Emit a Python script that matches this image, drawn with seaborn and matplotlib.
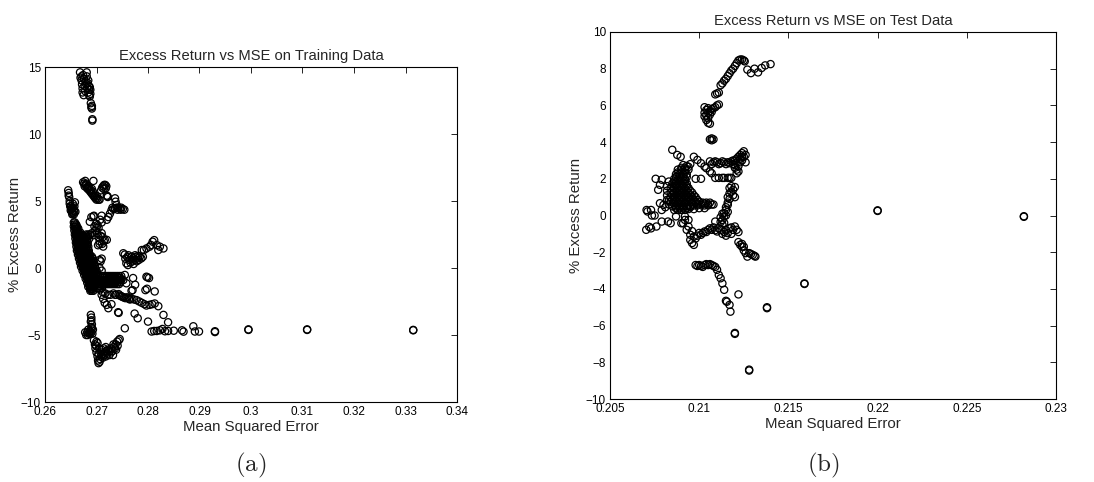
import matplotlib
matplotlib.use('Agg')
import matplotlib.pyplot as plt
from matplotlib.ticker import FuncFormatter, MultipleLocator
import pandas as pd
import seaborn as sns

# ---- (a) training data: (MSE, % excess return) ----
train_top = [
    (0.2668, 14.6), (0.2671, 14.3), (0.2671, 14.0), (0.2672, 13.7), (0.2674, 14.4),
    (0.2676, 14.1), (0.2677, 13.6), (0.2679, 13.9), (0.2681, 14.6), (0.2681, 14.3),
    (0.2682, 13.4), (0.2683, 13.8), (0.2684, 13.1), (0.2685, 13.6), (0.2686, 13.3),
    (0.2686, 12.9), (0.2687, 13.5), (0.2688, 13.0), (0.2688, 13.3), (0.2673, 13.1),
    (0.2675, 12.9), (0.2690, 12.0), (0.2691, 11.9), (0.2691, 12.1), (0.2692, 11.1),
    (0.2692, 11.0), (0.2669, 14.2), (0.2673, 13.4), (0.2678, 13.2), (0.2680, 13.7),
    (0.2684, 14.0), (0.2687, 12.8), (0.2689, 12.3),
]
train_six = [
    (0.2674, 6.4), (0.2676, 6.3), (0.2678, 6.5), (0.2679, 6.2), (0.2681, 6.0),
    (0.2683, 5.9), (0.2684, 6.1), (0.2686, 5.8), (0.2688, 5.7), (0.2690, 5.6),
    (0.2692, 5.5), (0.2694, 5.4), (0.2696, 5.3), (0.2698, 5.2), (0.2700, 5.1),
    (0.2702, 5.2), (0.2704, 5.1), (0.2706, 5.1), (0.2694, 6.5), (0.2691, 5.9),
    (0.2677, 6.1), (0.2680, 6.3), (0.2685, 6.0), (0.2689, 5.8), (0.2693, 5.7),
    (0.2697, 5.4), (0.2701, 5.35),
    (0.2709, 5.8), (0.2711, 6.0), (0.2713, 6.1), (0.2715, 6.2), (0.2717, 6.2),
    (0.2719, 6.1), (0.2720, 5.4), (0.2722, 5.3), (0.2721, 5.35), (0.2714, 5.9),
    (0.2718, 5.95),
]
train_left = [
    (0.2645, 5.8), (0.2646, 5.6), (0.2647, 5.3), (0.2648, 5.0), (0.2649, 4.6),
    (0.2650, 4.3), (0.2652, 4.2), (0.2654, 4.1), (0.2656, 4.3), (0.2657, 4.6),
    (0.2658, 4.9), (0.2656, 4.0), (0.2651, 4.4), (0.2653, 4.0), (0.2659, 4.2),
    (0.2646, 5.4), (0.2648, 4.8), (0.2650, 4.6), (0.2652, 4.5), (0.2655, 4.5),
    (0.2657, 4.2), (0.2654, 4.8),
]
train_band = [
    (0.2656, 3.4), (0.2658, 3.4),
    (0.2656, 3.1), (0.2659, 3.1), (0.2662, 3.1),
    (0.2657, 2.8), (0.2660, 2.8), (0.2663, 2.8),
    (0.2658, 2.5), (0.2661, 2.5), (0.2664, 2.5), (0.2667, 2.5), (0.2670, 2.5),
    (0.2680, 2.5), (0.2684, 2.5), (0.2688, 2.5),
    (0.2659, 2.2), (0.2662, 2.2), (0.2665, 2.2), (0.2668, 2.2), (0.2671, 2.2),
    (0.2674, 2.2), (0.2678, 2.2), (0.2682, 2.2), (0.2686, 2.2),
    (0.2660, 1.9), (0.2663, 1.9), (0.2666, 1.9), (0.2669, 1.9), (0.2672, 1.9),
    (0.2675, 1.9), (0.2679, 1.9), (0.2683, 1.9),
    (0.2661, 1.6), (0.2664, 1.6), (0.2667, 1.6), (0.2670, 1.6), (0.2673, 1.6),
    (0.2676, 1.6), (0.2680, 1.6), (0.2684, 1.6),
    (0.2662, 1.3), (0.2665, 1.3), (0.2668, 1.3), (0.2671, 1.3), (0.2674, 1.3),
    (0.2677, 1.3), (0.2681, 1.3), (0.2685, 1.3),
    (0.2664, 1.0), (0.2667, 1.0), (0.2670, 1.0), (0.2673, 1.0), (0.2676, 1.0),
    (0.2679, 1.0), (0.2683, 1.0), (0.2687, 1.0),
    (0.2666, 0.7), (0.2669, 0.7), (0.2672, 0.7), (0.2675, 0.7), (0.2678, 0.7),
    (0.2681, 0.7), (0.2685, 0.7), (0.2689, 0.7), (0.2693, 0.7),
    (0.2668, 0.4), (0.2671, 0.4), (0.2674, 0.4), (0.2677, 0.4), (0.2680, 0.4),
    (0.2683, 0.4), (0.2687, 0.4), (0.2691, 0.4), (0.2695, 0.4),
    (0.2670, 0.1), (0.2673, 0.1), (0.2676, 0.1), (0.2679, 0.1), (0.2682, 0.1),
    (0.2685, 0.1), (0.2689, 0.1), (0.2693, 0.1), (0.2697, 0.1),
    (0.2673, -0.2), (0.2676, -0.2), (0.2679, -0.2), (0.2682, -0.2), (0.2685, -0.2),
    (0.2688, -0.2), (0.2692, -0.2), (0.2696, -0.2), (0.2700, -0.2),
    (0.2676, -0.5), (0.2679, -0.5), (0.2682, -0.5), (0.2685, -0.5), (0.2688, -0.5),
    (0.2691, -0.5), (0.2695, -0.5), (0.2699, -0.5), (0.2703, -0.5),
    (0.2679, -0.8), (0.2682, -0.8), (0.2685, -0.8), (0.2688, -0.8), (0.2691, -0.8),
    (0.2694, -0.8), (0.2698, -0.8), (0.2702, -0.8),
    (0.2682, -1.1), (0.2685, -1.1), (0.2688, -1.1), (0.2691, -1.1), (0.2694, -1.1),
    (0.2697, -1.1), (0.2700, -1.1),
    (0.2684, -1.4), (0.2687, -1.4), (0.2690, -1.4), (0.2693, -1.4), (0.2696, -1.4),
    (0.2688, -1.7), (0.2691, -1.7), (0.2694, -1.7),
]
# second, offset pass over the dense band
train_band_b = [
    (0.26575, 3.25), (0.26605, 3.25),
    (0.26585, 2.95), (0.26615, 2.95), (0.26645, 2.95),
    (0.26595, 2.65), (0.26625, 2.65), (0.26655, 2.65), (0.26685, 2.65),
    (0.26605, 2.35), (0.26635, 2.35), (0.26665, 2.35), (0.26695, 2.35), (0.26725, 2.35),
    (0.2676, 2.35), (0.2680, 2.35), (0.2684, 2.35),
    (0.26615, 2.05), (0.26645, 2.05), (0.26675, 2.05), (0.26705, 2.05), (0.26735, 2.05),
    (0.26765, 2.05), (0.2681, 2.05),
    (0.26625, 1.75), (0.26655, 1.75), (0.26685, 1.75), (0.26715, 1.75), (0.26745, 1.75),
    (0.2678, 1.75), (0.2682, 1.75),
    (0.26635, 1.45), (0.26665, 1.45), (0.26695, 1.45), (0.26725, 1.45), (0.26755, 1.45),
    (0.2679, 1.45), (0.2683, 1.45),
    (0.26655, 1.15), (0.26685, 1.15), (0.26715, 1.15), (0.26745, 1.15), (0.26775, 1.15),
    (0.2681, 1.15), (0.2685, 1.15),
    (0.26675, 0.85), (0.26705, 0.85), (0.26735, 0.85), (0.26765, 0.85), (0.26795, 0.85),
    (0.2683, 0.85), (0.2687, 0.85), (0.2691, 0.85),
    (0.26695, 0.55), (0.26725, 0.55), (0.26755, 0.55), (0.26785, 0.55), (0.26815, 0.55),
    (0.2685, 0.55), (0.2689, 0.55), (0.2693, 0.55),
    (0.26715, 0.25), (0.26745, 0.25), (0.26775, 0.25), (0.26805, 0.25), (0.26835, 0.25),
    (0.2687, 0.25), (0.2691, 0.25), (0.2695, 0.25),
    (0.26745, -0.05), (0.26775, -0.05), (0.26805, -0.05), (0.26835, -0.05),
    (0.26865, -0.05), (0.2690, -0.05), (0.2694, -0.05), (0.2698, -0.05),
    (0.26775, -0.35), (0.26805, -0.35), (0.26835, -0.35), (0.26865, -0.35),
    (0.26895, -0.35), (0.2693, -0.35), (0.2697, -0.35), (0.2701, -0.35),
    (0.26805, -0.65), (0.26835, -0.65), (0.26865, -0.65), (0.26895, -0.65),
    (0.26925, -0.65), (0.2696, -0.65), (0.2700, -0.65),
    (0.26835, -0.95), (0.26865, -0.95), (0.26895, -0.95), (0.26925, -0.95),
    (0.26955, -0.95), (0.2699, -0.95),
    (0.26855, -1.25), (0.26885, -1.25), (0.26915, -1.25), (0.26945, -1.25),
    (0.26875, -1.55), (0.26905, -1.55), (0.26935, -1.55),
]
train_mid = [
    (0.2687, 3.45), (0.2690, 3.8), (0.2694, 3.85), (0.2695, 3.9), (0.2707, 3.6),
    (0.2710, 3.9), (0.2710, 3.4), (0.2700, 3.0), (0.2702, 3.2), (0.2698, 2.8),
    (0.2704, 3.0), (0.2706, 2.0), (0.2708, 2.4), (0.2710, 2.6), (0.2712, 2.3),
    (0.2714, 2.0), (0.2716, 2.1), (0.2720, 2.1), (0.2711, 1.8), (0.2713, 1.6),
    (0.2703, 1.7), (0.2706, 1.8), (0.2691, 2.6), (0.2694, 2.45), (0.2696, 3.1),
    (0.2701, 2.6), (0.2704, 2.3), (0.2699, 3.3),
    (0.2720, 3.6), (0.2723, 3.8), (0.2726, 4.05), (0.2729, 4.3),
    (0.2733, 4.4), (0.2736, 4.45), (0.2739, 4.5), (0.2742, 4.5), (0.2745, 4.45),
    (0.2748, 4.5), (0.2751, 4.4), (0.2754, 4.35), (0.2736, 5.2), (0.2737, 4.95),
    (0.2739, 4.7), (0.2731, 4.5), (0.2741, 4.35), (0.2747, 4.35),
    (0.2710, 0.7), (0.2708, 0.5), (0.2706, 0.6), (0.2706, 0.0), (0.2710, -0.2),
]
train_right = [
    (0.2752, 1.1), (0.2755, 1.0), (0.2758, 0.35), (0.2761, 0.22), (0.2764, 0.6),
    (0.2768, 0.84), (0.2771, 0.72), (0.2774, 0.6), (0.2777, 0.84), (0.2780, 0.72),
    (0.2784, 0.84), (0.2787, 0.72), (0.2790, 0.84), (0.2760, 0.8), (0.2766, 0.4),
    (0.2772, 0.3), (0.2778, 0.5), (0.2782, 0.6), (0.2756, 0.7), (0.2762, 0.95),
    (0.2769, 0.55), (0.2775, 0.95), (0.2781, 0.9),
    (0.2788, 1.34), (0.2792, 1.34),
    (0.2797, 1.46), (0.2803, 1.59), (0.2806, 1.71), (0.2809, 1.96), (0.2812, 2.08),
    (0.2817, 1.71), (0.2820, 1.34), (0.2823, 1.59), (0.2830, 1.46),
]
train_neg = [
    (0.2712, -0.6), (0.2716, -0.6), (0.2720, -0.6), (0.2724, -0.6), (0.2728, -0.6),
    (0.2732, -0.6), (0.2736, -0.6), (0.2740, -0.6), (0.2744, -0.6), (0.2748, -0.6),
    (0.2708, -0.9), (0.2712, -0.9), (0.2716, -0.9), (0.2720, -0.9), (0.2724, -0.9),
    (0.2728, -0.9), (0.2732, -0.9), (0.2736, -0.9), (0.2740, -0.9), (0.2744, -0.9),
    (0.2748, -0.9), (0.2752, -0.9),
    (0.2704, -1.2), (0.2708, -1.2), (0.2712, -1.2), (0.2716, -1.2), (0.2720, -1.2),
    (0.2724, -1.2), (0.2728, -1.2), (0.2732, -1.2), (0.2736, -1.2), (0.2740, -1.2),
    (0.2744, -1.2), (0.2702, -1.5), (0.2706, -1.5), (0.2710, -1.5),
    (0.2714, -0.75), (0.2718, -0.75), (0.2722, -0.75), (0.2726, -0.75), (0.2730, -0.75),
    (0.2734, -0.75), (0.2738, -0.75), (0.2742, -0.75), (0.2746, -0.75),
    (0.2710, -1.05), (0.2714, -1.05), (0.2718, -1.05), (0.2722, -1.05), (0.2726, -1.05),
    (0.2730, -1.05), (0.2734, -1.05), (0.2738, -1.05), (0.2742, -1.05), (0.2746, -1.05),
    (0.2706, -1.35), (0.2712, -1.35),
    (0.2755, -0.52), (0.2758, -1.14),
    (0.2771, -0.75), (0.2775, -1.25), (0.2770, -1.65), (0.2797, -0.65),
    (0.2802, -0.75), (0.2799, -0.7), (0.2795, -1.65), (0.2798, -1.55),
    (0.2813, -1.75), (0.2768, -1.7),
]
train_down = [
    (0.2707, -1.6), (0.2712, -1.8), (0.2717, -1.9), (0.2722, -2.0), (0.2727, -2.0),
    (0.2733, -1.9), (0.2738, -2.0), (0.2743, -1.95), (0.2748, -2.1), (0.2753, -2.2),
    (0.2758, -2.2), (0.2763, -2.3), (0.2768, -2.3), (0.2773, -2.35), (0.2778, -2.4),
    (0.2783, -2.5), (0.2788, -2.6), (0.2793, -2.7), (0.2797, -2.8), (0.2803, -2.75),
    (0.2808, -2.7), (0.2813, -2.65), (0.2820, -2.85), (0.2710, -2.0), (0.2713, -2.3),
    (0.2716, -2.6), (0.2720, -2.75), (0.2723, -3.0), (0.2729, -2.7), (0.2736, -2.0),
    (0.2745, -2.05), (0.2750, -2.15), (0.2756, -2.25), (0.2760, -2.2), (0.2765, -2.35),
    (0.2742, -3.3), (0.2743, -3.35), (0.2755, -4.5), (0.2774, -3.4), (0.2780, -3.75),
    (0.2800, -4.0), (0.2830, -3.5), (0.2839, -4.05),
]
train_flat = [
    (0.2807, -4.74), (0.2812, -4.7), (0.2817, -4.7), (0.2823, -4.65), (0.2828, -4.55),
    (0.2833, -4.72), (0.2839, -4.7), (0.2850, -4.68), (0.2866, -4.65), (0.2869, -4.75),
    (0.2888, -4.35), (0.2891, -4.74), (0.2899, -4.74), (0.2930, -4.78), (0.2930, -4.72),
    (0.2995, -4.62), (0.2995, -4.58), (0.3109, -4.62), (0.3109, -4.58), (0.3315, -4.65),
    (0.3315, -4.62),
]
train_low = [
    (0.2689, -3.5), (0.2690, -3.7), (0.2690, -3.9), (0.2691, -4.2), (0.2691, -4.5),
    (0.2690, -4.8), (0.2688, -4.9), (0.2685, -4.9), (0.2682, -4.8), (0.2680, -5.0),
    (0.2678, -4.8), (0.2684, -4.6), (0.2687, -4.7), (0.2692, -4.9), (0.2693, -4.6),
    (0.2689, -4.0), (0.2690, -4.4), (0.2683, -5.0), (0.2686, -4.8),
    (0.2695, -5.4), (0.2697, -5.7), (0.2698, -6.0), (0.2700, -6.3), (0.2702, -6.6),
    (0.2703, -6.9), (0.2704, -7.1), (0.2706, -7.0), (0.2707, -6.8), (0.2710, -6.5),
    (0.2713, -6.4), (0.2716, -6.3), (0.2719, -6.2), (0.2722, -6.1), (0.2725, -6.2),
    (0.2728, -6.0), (0.2731, -6.2), (0.2734, -5.9), (0.2737, -5.7), (0.2740, -5.5),
    (0.2743, -5.4), (0.2745, -5.3), (0.2710, -6.1), (0.2714, -6.0), (0.2718, -5.9),
    (0.2705, -6.0), (0.2702, -5.6), (0.2700, -5.5), (0.2712, -6.7), (0.2718, -6.6),
    (0.2725, -6.5), (0.2732, -6.5), (0.2733, -5.7), (0.2738, -6.1), (0.2699, -5.8),
    (0.2704, -6.4), (0.2708, -6.3), (0.2715, -6.5), (0.2721, -6.4), (0.2728, -6.3),
    (0.2736, -6.0), (0.2741, -5.8),
]

# ---- (b) test data ----
test_arc = [
    (0.2106, 4.15), (0.2107, 4.2), (0.2107, 4.1), (0.2108, 4.15),
    (0.2103, 5.9), (0.2103, 5.6), (0.2103, 5.4), (0.2104, 5.2), (0.2104, 5.75),
    (0.2105, 5.85), (0.2106, 5.0), (0.2105, 5.05), (0.2106, 5.5), (0.2107, 5.8),
    (0.2108, 5.85), (0.2109, 5.9), (0.2110, 6.0), (0.2111, 6.05), (0.2104, 5.45),
    (0.2106, 5.7), (0.2105, 5.3), (0.2105, 5.6), (0.2107, 5.65),
    (0.2109, 6.6), (0.2110, 6.65), (0.2111, 6.7), (0.2112, 7.1), (0.2113, 7.2),
    (0.2114, 7.35), (0.2115, 7.45), (0.2116, 7.6), (0.2117, 7.75), (0.2118, 7.9),
    (0.2119, 8.0), (0.2120, 8.15), (0.2121, 8.3), (0.2122, 8.45), (0.2123, 8.5),
    (0.2124, 8.5), (0.2125, 8.45), (0.21255, 8.4),
    (0.2127, 7.95), (0.2129, 7.76), (0.2131, 8.0), (0.2133, 7.8), (0.2135, 8.04),
    (0.2137, 8.18), (0.2140, 8.25),
]
test_three = [
    (0.2106, 2.95), (0.2108, 2.9), (0.2110, 2.9), (0.2112, 2.85), (0.2114, 2.9),
    (0.2116, 2.9), (0.2118, 2.95), (0.2119, 2.8), (0.2120, 2.6), (0.2120, 3.0),
    (0.2121, 2.5), (0.2121, 3.1), (0.2122, 2.7), (0.2122, 3.2), (0.2123, 2.9),
    (0.2123, 3.3), (0.2124, 3.0), (0.2124, 3.4), (0.2125, 3.2), (0.2125, 3.5),
    (0.2126, 3.3), (0.2126, 2.9), (0.2122, 2.4), (0.2121, 2.3), (0.2120, 2.75),
    (0.2119, 3.0), (0.2107, 2.8), (0.2109, 2.95), (0.2111, 2.8), (0.2113, 2.95),
    (0.2115, 2.8), (0.2117, 2.85), (0.2121, 2.85), (0.2123, 3.1), (0.2124, 3.2),
    (0.2101, 2.0), (0.2109, 2.05), (0.2111, 2.05), (0.2113, 2.05), (0.2114, 2.05),
    (0.2116, 2.05), (0.2117, 2.05), (0.2118, 2.05),
    (0.2097, 3.2), (0.2099, 3.03), (0.2101, 2.85), (0.2103, 2.67), (0.2104, 2.58),
    (0.2106, 2.4), (0.2107, 2.3),
    (0.2116, 1.0), (0.2117, 1.2), (0.2117, 1.5), (0.2118, 1.3), (0.2118, 1.6),
    (0.2119, 1.1), (0.2119, 1.4), (0.2120, 1.0), (0.2120, 1.55), (0.2117, 0.9),
]
test_blob = [
    (0.2091, 2.75), (0.2093, 2.7), (0.2095, 2.8),
    (0.2088, 2.5), (0.2090, 2.5), (0.2092, 2.5), (0.2094, 2.5),
    (0.2087, 2.25), (0.2089, 2.25), (0.2091, 2.25), (0.2093, 2.25),
    (0.2086, 2.0), (0.2088, 2.0), (0.2090, 2.0), (0.2092, 2.0),
    (0.2085, 1.75), (0.2087, 1.75), (0.2089, 1.75), (0.2091, 1.75), (0.2093, 1.75),
    (0.2084, 1.5), (0.2086, 1.5), (0.2088, 1.5), (0.2090, 1.5), (0.2092, 1.5),
    (0.2094, 1.5),
    (0.2084, 1.25), (0.2086, 1.25), (0.2088, 1.25), (0.2090, 1.25), (0.2092, 1.25),
    (0.2094, 1.25), (0.2096, 1.25),
    (0.2084, 1.0), (0.2086, 1.0), (0.2088, 1.0), (0.2090, 1.0), (0.2092, 1.0),
    (0.2094, 1.0), (0.2096, 1.0), (0.2098, 1.0),
    (0.2084, 0.75), (0.2086, 0.75), (0.2088, 0.75), (0.2090, 0.75), (0.2092, 0.75),
    (0.2094, 0.75), (0.2096, 0.75), (0.2098, 0.75), (0.2100, 0.75), (0.2102, 0.7),
    (0.2104, 0.7), (0.2106, 0.7),
    (0.2085, 0.5), (0.2087, 0.5), (0.2089, 0.5), (0.2091, 0.5), (0.2093, 0.5),
    (0.2095, 0.5), (0.2097, 0.55), (0.2099, 0.55), (0.2101, 0.6), (0.2103, 0.55),
    (0.2105, 0.55), (0.2107, 0.6), (0.2108, 0.6),
    (0.2086, 0.3), (0.2088, 0.3), (0.2090, 0.3), (0.2092, 0.3), (0.2094, 0.35),
    (0.2097, 0.35), (0.2100, 0.4), (0.2103, 0.4),
]
# second, offset pass over the dense blob
test_blob_b = [
    (0.2090, 2.6), (0.2092, 2.6), (0.2094, 2.65),
    (0.2088, 2.35), (0.2090, 2.35), (0.2092, 2.35),
    (0.2087, 2.1), (0.2089, 2.1), (0.2091, 2.1), (0.2093, 2.1),
    (0.2083, 1.85), (0.2086, 1.85), (0.2088, 1.85), (0.2090, 1.85), (0.2092, 1.85),
    (0.2082, 1.6), (0.2085, 1.6), (0.2087, 1.6), (0.2089, 1.6), (0.2091, 1.6),
    (0.2093, 1.6),
    (0.2082, 1.35), (0.2085, 1.35), (0.2087, 1.35), (0.2089, 1.35), (0.2091, 1.35),
    (0.2093, 1.35), (0.2095, 1.35),
    (0.2082, 1.1), (0.2085, 1.1), (0.2087, 1.1), (0.2089, 1.1), (0.2091, 1.1),
    (0.2093, 1.1), (0.2095, 1.1), (0.2097, 1.1),
    (0.2082, 0.85), (0.2085, 0.85), (0.2087, 0.85), (0.2089, 0.85), (0.2091, 0.85),
    (0.2093, 0.85), (0.2095, 0.85), (0.2097, 0.85), (0.2099, 0.85),
    (0.2083, 0.6), (0.2086, 0.6), (0.2088, 0.6), (0.2090, 0.6), (0.2092, 0.6),
    (0.2094, 0.6), (0.2096, 0.65), (0.2099, 0.65), (0.2103, 0.65), (0.2105, 0.6),
    (0.2087, 0.4), (0.2089, 0.4), (0.2091, 0.4), (0.2093, 0.4), (0.2095, 0.45),
]
test_open = [
    (0.20849, 3.58), (0.20877, 3.3), (0.20896, 3.2), (0.20756, 2.0), (0.2079, 1.95),
    (0.2077, 1.4), (0.2078, 1.67), (0.2071, 0.22), (0.20705, 0.3), (0.2073, 0.3),
    (0.20735, 0.0), (0.2075, 0.0), (0.20703, -0.78), (0.2073, -0.7), (0.2072, -0.62),
    (0.2076, -0.6), (0.2079, -0.33), (0.20825, -0.33), (0.2084, -0.42), (0.2087, -0.05),
    (0.2090, -0.42), (0.2078, 0.67), (0.2080, 0.58), (0.2079, 0.3), (0.2083, 0.85),
    (0.2081, 0.45), (0.2098, 2.0),
]
test_low = [
    (0.2091, -0.42), (0.2093, -0.78), (0.2095, -1.05), (0.2097, -1.15), (0.2099, -1.1),
    (0.2101, -1.05), (0.2103, -0.87), (0.2105, -0.78), (0.2107, -0.78), (0.2109, -0.8),
    (0.2110, -0.87), (0.2112, -0.78), (0.2114, -0.9), (0.2116, -0.96), (0.2117, -0.7),
    (0.2119, -0.78), (0.2121, -0.78), (0.2097, -1.6), (0.2096, -1.5), (0.2095, -1.33),
    (0.2092, -0.24), (0.2094, -0.24), (0.2092, -0.05), (0.2109, -0.33), (0.2100, -0.95),
    (0.2106, -0.7), (0.2118, -1.0), (0.2115, -1.1), (0.2113, -1.0), (0.2120, -0.6),
    (0.2094, -0.6), (0.2096, -0.85), (0.2098, -1.25), (0.2102, -0.95), (0.2104, -0.9),
    (0.2108, -0.65), (0.2111, -0.7), (0.2115, -0.8), (0.2118, -0.65), (0.2122, -0.9),
    (0.2113, -0.5), (0.2113, -0.24), (0.2114, -0.05), (0.2114, 0.13), (0.2115, 0.3),
    (0.2115, 0.45), (0.2116, 0.58), (0.2116, 0.7), (0.2112, -0.35), (0.2112, -0.1),
    (0.2114, -0.4), (0.2115, 0.0), (0.2116, 0.2), (0.2113, 0.1),
    (0.2122, -1.45), (0.2123, -1.6), (0.2124, -1.7), (0.2125, -1.7), (0.2126, -2.05),
    (0.2127, -2.24), (0.2128, -2.05), (0.2129, -2.1), (0.2130, -2.15), (0.2131, -2.2),
    (0.21315, -2.24), (0.2125, -1.9), (0.2124, -1.55),
]
test_tail = [
    (0.2098, -2.7), (0.2099, -2.75), (0.2100, -2.7), (0.2101, -2.75), (0.2102, -2.8),
    (0.2103, -2.7), (0.2104, -2.65), (0.2105, -2.7), (0.2106, -2.65), (0.2107, -2.7),
    (0.2108, -2.75), (0.2109, -2.8), (0.2110, -2.96), (0.2111, -3.24), (0.2112, -3.42),
    (0.2113, -3.7), (0.2114, -4.05), (0.2115, -4.65), (0.21155, -4.7), (0.2117, -4.87),
    (0.21175, -5.24), (0.2120, -6.4), (0.2120, -6.45), (0.2128, -8.45), (0.2128, -8.4),
    (0.2122, -4.3), (0.2138, -5.05), (0.2138, -5.0), (0.2159, -3.73), (0.2159, -3.7),
    (0.2200, 0.25), (0.2200, 0.28), (0.2282, -0.07), (0.2282, -0.04),
]

train = pd.DataFrame(train_top + train_six + train_left + train_band + train_band_b
                     + train_mid + train_right + train_neg + train_down + train_flat
                     + train_low, columns=['mse', 'ret'])
test = pd.DataFrame(test_arc + test_three + test_blob + test_blob_b + test_open
                    + test_low + test_tail, columns=['mse', 'ret'])

sns.set_theme(style='white')
plt.rcParams['font.family'] = ['Liberation Sans', 'DejaVu Sans']
plt.rcParams['mathtext.fontset'] = 'cm'
plt.rcParams['axes.linewidth'] = 0.8
plt.rcParams['axes.edgecolor'] = 'black'

fig = plt.figure(figsize=(10.94, 4.82), dpi=100)
ax1 = fig.add_axes([45 / 1094, 1 - 402 / 482, 412 / 1094, 335 / 482])
ax2 = fig.add_axes([610 / 1094, 1 - 399 / 482, 446 / 1094, 367 / 482])

fmt = FuncFormatter(lambda v, p: f'{v:g}'.replace('-', '\u2212'))

panels = [
    (ax1, train, 'Excess Return vs MSE on Training Data', (0.26, 0.34), 0.01, (-10, 15), 5, -0.056),
    (ax2, test, 'Excess Return vs MSE on Test Data', (0.205, 0.23), 0.005, (-10, 10), 2, -0.06),
]
for ax, df, title, xlim, xstep, ylim, ystep, ylab_x in panels:
    sns.scatterplot(data=df, x='mse', y='ret', ax=ax, marker='o', s=27,
                    facecolor='none', edgecolor='black', linewidth=0.9)
    ax.set_xlim(*xlim)
    ax.set_ylim(*ylim)
    ax.xaxis.set_major_locator(MultipleLocator(xstep))
    ax.yaxis.set_major_locator(MultipleLocator(ystep))
    ax.xaxis.set_major_formatter(fmt)
    ax.yaxis.set_major_formatter(fmt)
    ax.tick_params(direction='in', top=True, right=True, length=4, width=0.6,
                   labelsize=8.5, pad=3, colors='black')
    ax.set_title(title, fontsize=10.6, pad=5)
    ax.set_xlabel('Mean Squared Error', fontsize=10.8, labelpad=1)
    ax.set_ylabel('% Excess Return', fontsize=10.8)
    ax.yaxis.set_label_coords(ylab_x, 0.5)
    for sp in ax.spines.values():
        sp.set_visible(True)
        sp.set_color('black')

# sub-figure captions
fig.text(251 / 1094, 1 - 465 / 482, r'$\mathrm{(a)}$', ha='center', va='center', fontsize=18)
fig.text(823 / 1094, 1 - 465 / 482, r'$\mathrm{(b)}$', ha='center', va='center', fontsize=18)

fig.savefig('out.png', dpi=100, facecolor='white')
